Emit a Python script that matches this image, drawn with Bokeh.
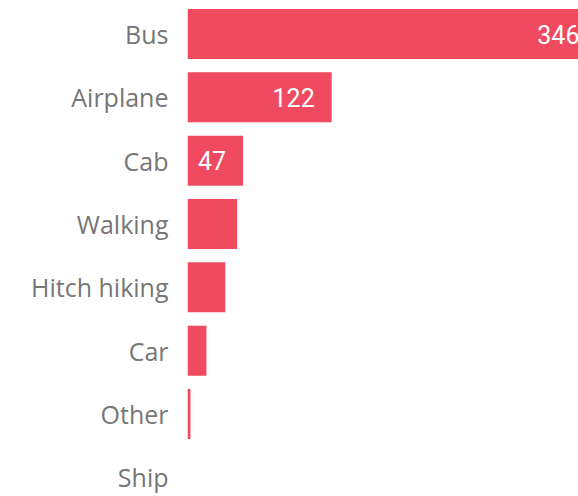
from bokeh.plotting import figure
from bokeh.models import ColumnDataSource, Range1d, FixedTicker, LabelSet
from bokeh.core.properties import value
from bokeh.embed import file_html
from bokeh.resources import INLINE

categories = ["Bus", "Airplane", "Cab", "Walking", "Hitch hiking", "Car", "Other", "Ship"]
values = [346, 122, 47, 42, 32, 16, 2.5, 0]
labels = ["346", "122", "47", "", "", "", "", ""]

positions = list(range(len(categories)))
src = ColumnDataSource(dict(y=positions, v=values, lab=labels))

p = figure(width=578, height=496, output_backend="svg", toolbar_location=None,
           x_range=Range1d(0, 330.8), y_range=Range1d(7.303, -0.529),
           min_border_left=187, min_border_right=0, min_border_top=0, min_border_bottom=0)
p.outline_line_color = None
p.xgrid.visible = False
p.ygrid.visible = False
p.xaxis.visible = False

p.hbar(y="y", right="v", left=0, height=0.79, source=src, color="#F04A60", line_color=None)

ya = p.yaxis[0]
ya.ticker = FixedTicker(ticks=positions)
ya.major_label_overrides = {i: c for i, c in zip(positions, categories)}
ya.axis_line_color = None
ya.major_tick_line_color = None
ya.minor_tick_line_color = None
ya.major_tick_out = 0
ya.major_tick_in = 0
ya.major_label_standoff = 19
ya.major_label_text_font = "Open Sans"
ya.major_label_text_font_size = "25px"
ya.major_label_text_color = "#767676"

ls = LabelSet(x="v", y="y", text="lab", source=src, x_offset=-17,
              text_align="right", text_baseline="middle", text_color="white",
              text_font=value("Roboto"), text_font_size=value("25px"))
p.add_layout(ls)

open("out.html", "w").write(file_html(p, INLINE))
